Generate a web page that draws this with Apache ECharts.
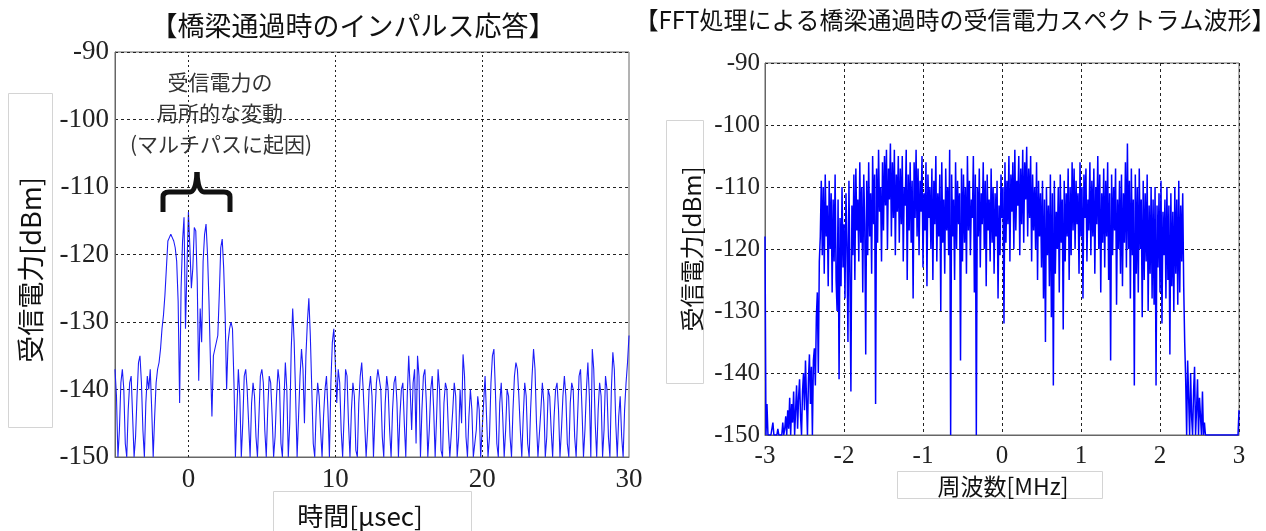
<!DOCTYPE html>
<html><head><meta charset="utf-8">
<script src="https://cdn.jsdelivr.net/npm/echarts@6/dist/echarts.min.js"></script>
<style>html,body{margin:0;padding:0;background:#fff}#c{width:1266px;height:531px}</style>
</head><body><div id="c"></div><script>
// ---- Left chart: impulse response (time in µs, power in dBm) ----
const timeStart = -5, timeStep = 0.1;
const impulse = [
-137,-141,-150,-146,-139,-137,-140,-148,-150,-143,
-139,-138,-144,-150,-147,-141,-136,-135,-139,-146,
-150,-142,-138,-140,-137,-143,-150,-144,-139,-137,
-136,-134,-131,-129,-126,-122,-118,-117.5,-117,-117.5,
-118,-119,-121,-127,-142,-125,-118,-114.5,-131,-122,
-113.7,-119,-125,-122,-116,-116.5,-124,-138.7,-128,-133,
-121,-117,-115.5,-120,-127,-136,-144,-135,-134,-133,
-132,-126,-119,-117.7,-122,-129,-140,-133,-131,-130,
-131,-139,-150,-143,-137,-141,-150,-145,-138,-137,
-140,-145,-150,-142,-139,-141,-147,-150,-144,-138,
-137,-139,-146,-150,-143,-138,-139,-144,-150,-147,
-141,-137,-139,-148,-150,-142,-136,-140,-150,-145,
-134,-128,-133,-141,-150,-144,-138,-134,-137,-145,
-135,-130,-126.5,-132,-140,-148,-150,-143,-139,-141,
-146,-150,-144,-140,-138,-143,-150,-139,-133,-131,
-136,-142,-137,-139,-146,-150,-144,-137,-138,-145,
-150,-143,-139,-141,-149,-150,-142,-138,-136,-140,
-145,-150,-146,-140,-138,-141,-150,-144,-139,-137,
-137,-140,-147,-150,-142,-138,-140,-146,-150,-143,
-139,-138,-142,-150,-144,-140,-139,-145,-150,-141,
-135,-140,-146,-139,-137,-148,-135,-138,-150,-143,
-138,-137,-142,-150,-146,-140,-138,-143,-150,-144,
-137,-140,-149,-150,-142,-139,-140,-146,-150,-150,
-143,-139,-141,-150,-147,-140,-145,-134.8,-138,-147,
-150,-144,-140,-143,-150,-150,-146,-141,-143,-150,
-150,-142,-138,-144,-150,-147,-139,-135,-134,-140,
-148,-150,-142,-139,-144,-150,-146,-140,-141,-147,
-150,-143,-138,-136,-137,-141,-146,-150,-144,-139,
-141,-148,-150,-143,-138,-134,-137,-145,-150,-150,
-143,-139,-142,-150,-147,-140,-141,-146,-150,-144,
-140,-139,-143,-150,-146,-141,-138,-141,-148,-150,
-142,-139,-140,-147,-150,-144,-138,-137,-143,-150,
-146,-140,-136,-141,-150,-134,-137,-145,-150,-143,
-139,-141,-150,-146,-138,-140,-147,-150,-140,-134.5,
-137,-145,-150,-144,-141,-147,-150,-143,-139,-136,
-132
];
const timeLabels = [0, 10, 20, 30];
const timeGridLines = [0, 10, 20];

// ---- Right chart: FFT spectrum (frequency in MHz, power in dBm) ----
const freqStart = -3, freqStep = 0.0125;
const spectrum = [
-118,-150,-145,-150,-150,-150,-150,-150,-148,-150,-150,-150,-150,-149,-150,-150,-150,-150,-148,-150,-149,
-147,-150,-146,-149,-144,-150,-145,-148,-143,-150,-146,-142,-149,-144,-141,-147,-150,-143,-140,-146,-138,-144,-150,-141,-137,-145,-139,-150,-138,
-136,-142,-131,-127,-140,-122,-118,
-109,-121,-110,-124,-108,-118,-113,-126,-109,-120,-111,-127,-112,-122,-108,-125,
-130,-112,-141,-115,-126,-110,-123,-116,-128,-111,-119,-135,-109,-124,-143,-113,
-121,-108,-125,-107,-117,-112,-122,-106,-119,-110,-127,-108,-116,-137,-109,-121,
-106,-118,-111,-124,-105,-116,-108,-145,-107,-119,-104,-114,-110,-122,-106,-117,
-105,-113,-104,-120,-107,-112,-103,-118,-106,-115,-104,-121,-108,-114,-105,-119,
-107,-116,-105,-122,-110,-113,-104,-125,-108,-117,-106,-119,-109,-128,-106,-115,
-104,-118,-107,-121,-109,-114,-105,-123,-111,-117,-106,-126,-108,-115,-110,-120,
-107,-125,-109,-116,-105,-122,-111,-118,-108,-130,-106,-119,-112,-124,-107,-117,
-110,-121,-104,-150,-108,-118,-112,-125,-106,-120,-109,-116,-111,-138,-107,-122,
-108,-119,-110,-124,-105,-117,-109,-121,-112,-115,-105,-127,-108,-150,-110,-118,
-107,-123,-111,-116,-106,-120,-109,-126,-108,-117,-112,-122,-107,-119,-110,-124,
-111,-118,-109,-128,-113,-121,-108,-115,-110,-132,-106,-119,-109,-116,-105,-122,
-108,-114,-106,-120,-104,-117,-109,-113,-105,-121,-107,-116,-104,-119,-106,-112,
-103.5,-118,-107,-115,-105,-122,-108,-117,-110,-120,-106,-125,-109,-118,-111,-123,
-109,-128,-112,-135,-110,-121,-113,-126,-108,-131,-111,-142,-109,-124,-114,-120,
-110,-127,-108,-119,-112,-133,-109,-122,-111,-118,-107,-125,-110,-121,-106,-117,
-107,-120,-109,-116,-111,-124,-106,-118,-110,-128,-108,-115,-107,-122,-112,-117,
-106,-121,-109,-118,-107,-124,-110,-116,-105,-120,-108,-127,-111,-119,-107,-123,
-109,-118,-106,-125,-111,-138,-108,-121,-110,-117,-107,-129,-112,-120,-109,-124,
-108,-126,-111,-119,-106,-123,-103,-120,-109,-128,-107,-121,-112,-142,-108,-124,
-110,-127,-107,-120,-112,-131,-109,-125,-111,-122,-108,-130,-113,-124,-110,-128,
-112,-129,-110,-142,-113,-123,-111,-127,-109,-132,-114,-121,-112,-128,-110,-125,
-113,-137,-111,-126,-114,-130,-110,-124,-112,-129,-109,-127,-113,-122,-111,-126,
-135,-141,-150,-138,-144,-150,-140,-147,-150,-143,-139,-150,-146,-141,-150,-144,
-147,-150,-143,-150,-148,-150,-150,-150,-150,-150,-150,-150,-150,-150,-150,-150,
-150,-150,-150,-150,-150,-150,-150,-150,-150,-150,-150,-150,-150,-150,-150,-150,
-150,-150,-150,-150,-150,-150,-150,-146
];

const powerMin = -150, powerMax = -90, powerStep = 10;
const annotationLines = ['受信電力の', '局所的な変動', '(マルチパスに起因)'];

const impulseData = impulse.map((v, i) => [timeStart + i * timeStep, v]);
const spectrumData = spectrum.map((v, i) => [freqStart + i * freqStep, v]);

const serif = '"Liberation Serif", "DejaVu Serif", serif';
const jp = '"Noto Sans CJK JP", "Noto Sans", sans-serif';
const gridDash = { color: '#222', width: 1, type: [3, 3] };
const braceStyle = { fill: 'none', stroke: '#111', lineWidth: 5 };
const axisLineStyle = { show: true, onZero: false, lineStyle: { color: '#666' } };

const chart = echarts.init(document.getElementById('c'), null, { renderer: 'canvas' });
chart.setOption({
  animation: false,
  backgroundColor: '#fff',
  title: [
    { text: '【橋梁通過時のインパルス応答】', left: 353, top: 12, textAlign: 'center', padding: 0,
      textStyle: { fontFamily: jp, fontSize: 27, fontWeight: 'normal', color: '#111' } },
    { text: '【FFT処理による橋梁通過時の受信電力スペクトラム波形】', left: 955, top: 8, textAlign: 'center', padding: 0,
      textStyle: { fontFamily: jp, fontSize: 24, fontWeight: 'normal', color: '#111' } }
  ],
  grid: [
    { left: 115, top: 52, width: 514, height: 405, show: true, borderColor: '#666', borderWidth: 1, backgroundColor: '#fff' },
    { left: 765, top: 63, width: 474, height: 372, show: true, borderColor: '#666', borderWidth: 1, backgroundColor: '#fff' }
  ],
  xAxis: [
    { type: 'value', gridIndex: 0, min: timeStart, max: 30,
      axisLine: axisLineStyle, axisTick: { show: false },
      splitLine: { show: false },
      axisLabel: { customValues: timeLabels, fontFamily: serif, fontSize: 27, color: '#222', margin: 9, showMaxLabel: true } },
    { type: 'value', gridIndex: 1, min: -3, max: 3, interval: 1,
      axisLine: axisLineStyle, axisTick: { show: false },
      splitLine: { show: true, lineStyle: gridDash },
      axisLabel: { fontFamily: serif, fontSize: 25, color: '#222', margin: 9 } }
  ],
  yAxis: [
    { type: 'value', gridIndex: 0, min: powerMin, max: powerMax, interval: powerStep,
      axisLine: axisLineStyle, axisTick: { show: false },
      splitLine: { show: true, lineStyle: gridDash },
      axisLabel: { fontFamily: serif, fontSize: 27, color: '#222', margin: 6 } },
    { type: 'value', gridIndex: 1, min: powerMin, max: powerMax, interval: powerStep,
      axisLine: axisLineStyle, axisTick: { show: false },
      splitLine: { show: true, lineStyle: gridDash },
      axisLabel: { fontFamily: serif, fontSize: 25, color: '#222', margin: 5 } }
  ],
  series: [
    { type: 'line', xAxisIndex: 0, yAxisIndex: 0, data: impulseData, showSymbol: false, silent: true,
      lineStyle: { color: '#1c1cf8', width: 1.1 },
      markLine: { silent: true, symbol: 'none', label: { show: false }, animation: false,
        lineStyle: { color: '#222', width: 1, type: [2, 3] },
        data: timeGridLines.map(v => ({ xAxis: v })) } },
    { type: 'line', xAxisIndex: 1, yAxisIndex: 1, data: spectrumData, showSymbol: false, silent: true,
      lineStyle: { color: '#0000ff', width: 1.5 } }
  ],
  graphic: [
    // annotation
    { type: 'text', x: 220, y: 82, z: 10, style: { text: annotationLines[0], fill: '#333', font: '21px ' + jp, textAlign: 'center', textVerticalAlign: 'middle' } },
    { type: 'text', x: 220, y: 113, z: 10, style: { text: annotationLines[1], fill: '#333', font: '21px ' + jp, textAlign: 'center', textVerticalAlign: 'middle' } },
    { type: 'text', x: 221, y: 144, z: 10, style: { text: annotationLines[2], fill: '#333', font: '21px ' + jp, textAlign: 'center', textVerticalAlign: 'middle' } },
    // brace
    { type: 'line', z: 10, shape: { x1: 163, y1: 212, x2: 163, y2: 197 }, style: braceStyle },
    { type: 'bezierCurve', z: 10, shape: { x1: 163, y1: 197, cpx1: 163, cpy1: 192, x2: 169, y2: 192 }, style: braceStyle },
    { type: 'line', z: 10, shape: { x1: 169, y1: 192, x2: 190, y2: 192 }, style: braceStyle },
    { type: 'bezierCurve', z: 10, shape: { x1: 190, y1: 192, cpx1: 196, cpy1: 192, x2: 197, y2: 172 }, style: braceStyle },
    { type: 'bezierCurve', z: 10, shape: { x1: 197, y1: 172, cpx1: 198, cpy1: 192, x2: 204, y2: 192 }, style: braceStyle },
    { type: 'line', z: 10, shape: { x1: 204, y1: 192, x2: 224, y2: 192 }, style: braceStyle },
    { type: 'bezierCurve', z: 10, shape: { x1: 224, y1: 192, cpx1: 230, cpy1: 192, x2: 230, y2: 197 }, style: braceStyle },
    { type: 'line', z: 10, shape: { x1: 230, y1: 197, x2: 230, y2: 212 }, style: braceStyle },
    // axis name boxes
    { type: 'rect', shape: { x: 8.5, y: 93.5, width: 44, height: 334 }, style: { fill: '#fff', stroke: '#d4d4d4', lineWidth: 1 } },
    { type: 'text', x: 31, y: 270, rotation: Math.PI / 2, style: { text: '受信電力[dBm]', fill: '#111', font: '27px ' + jp, textAlign: 'center', textVerticalAlign: 'middle' } },
    { type: 'rect', shape: { x: 273.5, y: 491.5, width: 198, height: 45 }, style: { fill: '#fff', stroke: '#d4d4d4', lineWidth: 1 } },
    { type: 'text', x: 360, y: 516, style: { text: '時間[μsec]', fill: '#111', font: '26px ' + jp, textAlign: 'center', textVerticalAlign: 'middle' } },
    { type: 'rect', shape: { x: 666.5, y: 120.5, width: 37, height: 263 }, style: { fill: '#fff', stroke: '#d4d4d4', lineWidth: 1 } },
    { type: 'text', x: 692, y: 249, rotation: Math.PI / 2, style: { text: '受信電力[dBm]', fill: '#111', font: '24px ' + jp, textAlign: 'center', textVerticalAlign: 'middle' } },
    { type: 'rect', shape: { x: 897.5, y: 471.5, width: 205, height: 27 }, style: { fill: '#fff', stroke: '#d4d4d4', lineWidth: 1 } },
    { type: 'text', x: 1003, y: 486, style: { text: '周波数[MHz]', fill: '#111', font: '23px ' + jp, textAlign: 'center', textVerticalAlign: 'middle' } }
  ]
});
</script></body></html>
